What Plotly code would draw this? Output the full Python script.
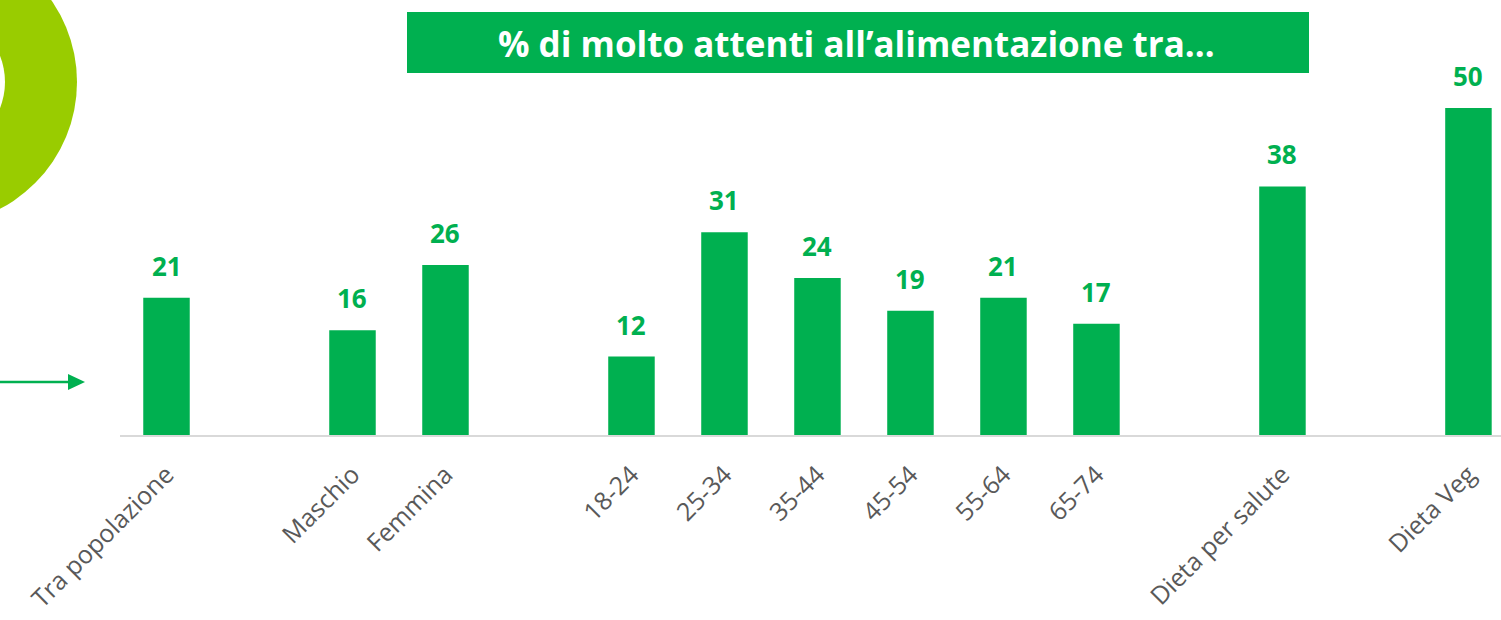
import plotly.graph_objects as go

# ---- data ----
group_total = ["Tra popolazione"]
group_gender = ["Maschio", "Femmina"]
group_age = ["18-24", "25-34", "35-44", "45-54", "55-64", "65-74"]
group_health = ["Dieta per salute"]
group_veg = ["Dieta Veg"]

values_total = [21]
values_gender = [16, 26]
values_age = [12, 31, 24, 19, 21, 17]
values_health = [38]
values_veg = [50]

title_text = "% di molto attenti all’alimentazione tra…"

GREEN = "#00B050"
LIME = "#99CC00"
GREY_TXT = "#595959"

groups = [group_total, group_gender, group_age, group_health, group_veg]
group_vals = [values_total, values_gender, values_age, values_health, values_veg]

# build category order with blank spacers between groups
cat_order, cats, vals = [], [], []
for gi, (g, v) in enumerate(zip(groups, group_vals)):
    if gi > 0:
        cat_order.append(" " * gi)
    cat_order.extend(g)
    cats.extend(g)
    vals.extend(v)

W, H = 1501, 620
ML, MR, MT, MB = 120, 0, 0, 185
PW, PH = W - ML - MR, H - MT - MB


def px(x):
    return (x - ML) / PW


def py(y):
    return (H - MB - y) / PH


fig = go.Figure()
fig.add_trace(go.Bar(
    x=cats, y=vals, width=0.5,
    marker=dict(color=GREEN, line=dict(width=0)),
    hoverinfo="x+y",
))

for c, v in zip(cats, vals):
    fig.add_annotation(
        x=c, y=v, text=f"<b>{v}</b>", showarrow=False,
        yanchor="bottom", yshift=12,
        font=dict(family="Open Sans", size=26, color=GREEN),
    )

# title box
fig.add_shape(type="rect", xref="paper", yref="paper",
              x0=px(407), x1=px(1309), y0=py(73), y1=py(12),
              fillcolor=GREEN, line=dict(width=0), layer="above")
fig.add_annotation(xref="paper", yref="paper", x=px(856), y=py(43),
                   text=f"<b>{title_text}</b>", showarrow=False,
                   xanchor="center", yanchor="middle",
                   font=dict(family="Open Sans", size=35, color="white"))

# decorative ring (top-left)
cx, cy, R, r = -66, 82, 143, 71
fig.add_shape(type="circle", xref="paper", yref="paper",
              x0=px(cx - R), x1=px(cx + R), y0=py(cy + R), y1=py(cy - R),
              fillcolor=LIME, line=dict(width=0), layer="below")
fig.add_shape(type="circle", xref="paper", yref="paper",
              x0=px(cx - r), x1=px(cx + r), y0=py(cy + r), y1=py(cy - r),
              fillcolor="white", line=dict(width=0), layer="below")

# arrow on left
fig.add_shape(type="line", xref="paper", yref="paper",
              x0=px(0), x1=px(72), y0=py(382), y1=py(382),
              line=dict(color=GREEN, width=2.5))
fig.add_shape(type="path", xref="paper", yref="paper",
              path=(f"M {px(68)},{py(374)} L {px(85)},{py(382)} "
                    f"L {px(68)},{py(390)} Z"),
              fillcolor=GREEN, line=dict(width=0))

fig.update_layout(
    width=W, height=H,
    margin=dict(l=ML, r=MR, t=MT, b=MB),
    plot_bgcolor="white", paper_bgcolor="white",
    showlegend=False,
    bargap=0.5,
    xaxis=dict(
        type="category", categoryorder="array", categoryarray=cat_order,
        range=[-0.5, 14.35], automargin=False,
        showline=True, linecolor="#D9D9D9", linewidth=2,
        showgrid=False, zeroline=False, ticks="",
        tickangle=-45, ticklabelstandoff=13,
        tickfont=dict(family="Open Sans", size=25, color=GREY_TXT),
    ),
    yaxis=dict(range=[0, 66.5], visible=False, showgrid=False, zeroline=False),
)

fig.write_html(
    "out.html",
    config={"displayModeBar": False},
    post_script="document.body.style.margin='0';document.body.style.overflow='hidden';",
)
